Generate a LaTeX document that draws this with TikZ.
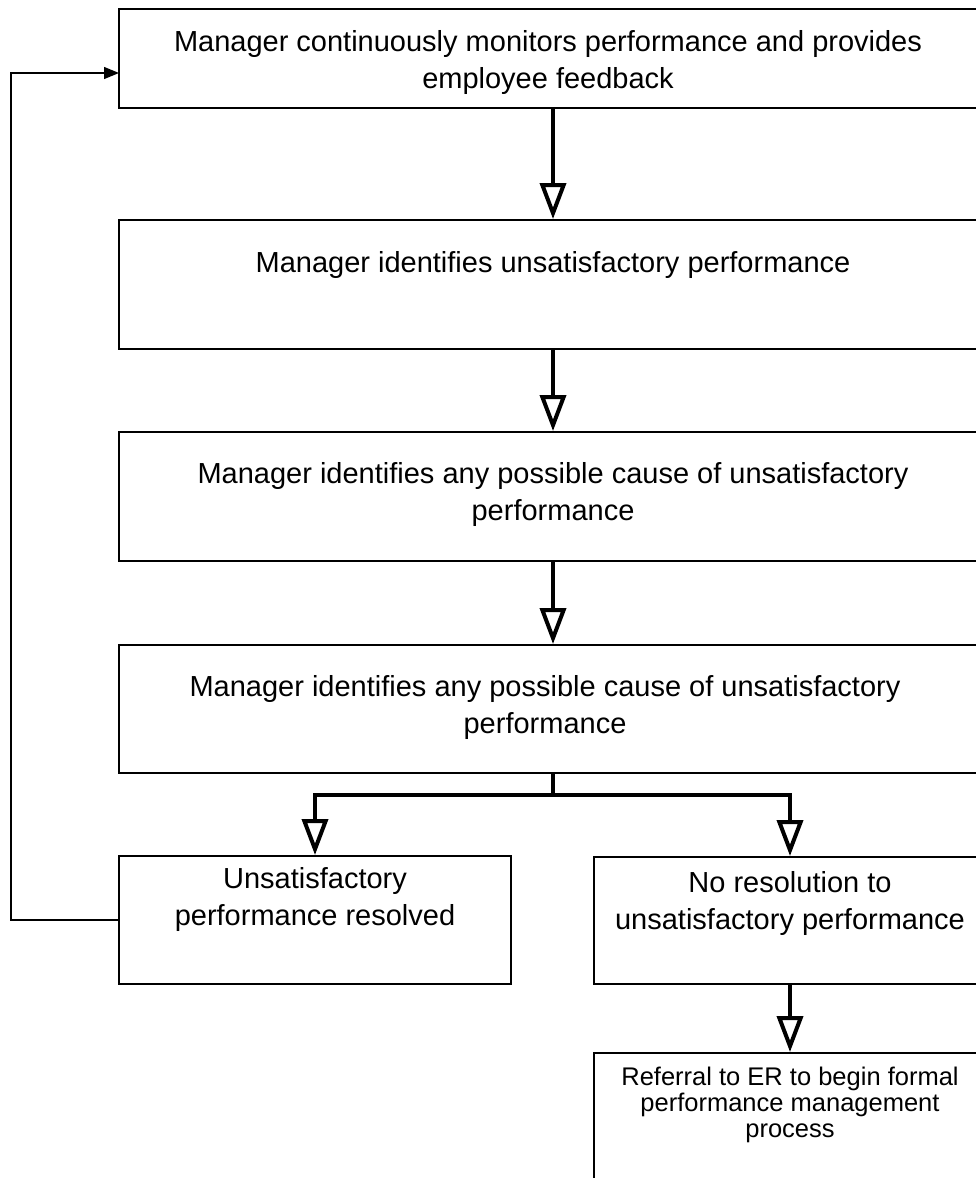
\documentclass[tikz,border=0pt]{standalone}
\usepackage{fontspec}
\setmainfont{Liberation Sans}
\usetikzlibrary{arrows.meta}
\begin{document}
\begin{tikzpicture}[x=1pt,y=-1pt,
  box/.style={draw, line width=2pt, rectangle, inner sep=0pt},
  txt/.style={align=center, font=\fontsize{29}{37}\selectfont, inner sep=0pt},
  smalltxt/.style={align=center, font=\fontsize{25.5}{26}\selectfont, inner sep=0pt},
  flow/.style={line width=4pt, -{Triangle[open,fill=white,length=36pt,width=26pt]}},
  fb/.style={line width=1.3pt, -{Triangle[length=15pt,width=12pt]}}]
\useasboundingbox (0,0) rectangle (976,1178);
\clip (0,0) rectangle (976,1178);
\fill[white] (0,0) rectangle (976,1178);
% boxes
\node[box, minimum width=868pt, minimum height=99pt] (b1) at (553,58.5) {};
\node[box, minimum width=868pt, minimum height=129pt] (b2) at (553,284.5) {};
\node[box, minimum width=868pt, minimum height=129pt] (b3) at (553,496.5) {};
\node[box, minimum width=868pt, minimum height=128pt] (b4) at (553,709) {};
\node[box, minimum width=392pt, minimum height=128pt] (l) at (315,920) {};
\node[box, minimum width=392pt, minimum height=127pt] (r) at (790,920.5) {};
\node[box, minimum width=392pt, minimum height=157pt] (e) at (790,1131.5) {};
% texts
\node[txt] (t1) at (548,63) {Manager continuously monitors performance and provides\\employee feedback};
\node[txt] (t2) at (553,265) {Manager identifies unsatisfactory performance};
\node[txt] (t3) at (553,494) {Manager identifies any possible cause of unsatisfactory\\performance};
\node[txt] (t4) at (545,707) {Manager identifies any possible cause of unsatisfactory\\performance};
\node[txt] (tl) at (315,899) {Unsatisfactory\\performance resolved};
\node[txt] (tr) at (790,903) {No resolution to\\unsatisfactory performance};
\node[smalltxt] (te) at (790,1105) {Referral to ER to begin formal\\performance management\\process};
% connectors
\coordinate (split) at (553,795);
\draw[flow] (b1.south) -- (b2.north);
\draw[flow] (b2.south) -- (b3.north);
\draw[flow] (b3.south) -- (b4.north);
\draw[flow] (b4.south) -- (split) -| (l.north);
\draw[flow] (b4.south) -- (split) -| (r.north);
\draw[flow] (r.south) -- (e.north);
\coordinate (c1) at (11,920);
\coordinate (c2) at (11,73);
\coordinate (fbin) at (119,73);
\draw[fb] (l.west) -- (c1) -- (c2) -- (fbin);
\end{tikzpicture}
\end{document}
